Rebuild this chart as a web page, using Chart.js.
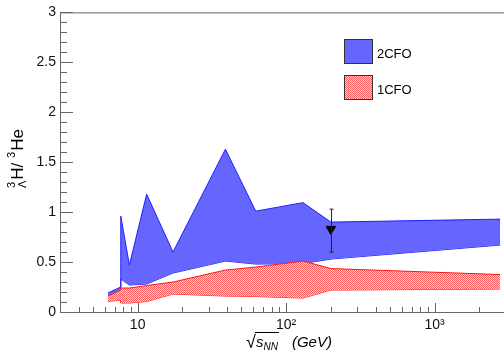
<!DOCTYPE html>
<html>
<head>
<meta charset="utf-8">
<style>
  html, body { margin: 0; padding: 0; background: #fff; overflow: hidden; }
  #wrap { width: 512px; height: 352px; }
</style>
<script src="https://cdn.jsdelivr.net/npm/chart.js@4/dist/chart.umd.min.js"></script>
</head>
<body>
<div id="wrap"><canvas id="c" width="512" height="352"></canvas></div>
<script>
// Collision energies (GeV); 7.7 appears twice where the band steps vertically
const sNN = [6.3, 7.7, 7.7, 8.8, 11.5, 17.3, 39, 62.4, 130, 200, 2760];

// 2CFO band (upper / lower edge)
const cfo2Upper = [0.19, 0.25, 0.96, 0.47, 1.18, 0.60, 1.63, 1.01, 1.095, 0.90, 0.93];
const cfo2Lower = [0.14, 0.20, 0.33, 0.27, 0.28, 0.39, 0.51, 0.48, 0.485, 0.53, 0.67];

// 1CFO band (upper / lower edge)
const cfo1Upper = [0.16, 0.22, 0.24, 0.24, 0.265, 0.30, 0.42, 0.45, 0.51, 0.435, 0.375];
const cfo1Lower = [0.105, 0.12, 0.09, 0.09, 0.105, 0.18, 0.16, 0.155, 0.14, 0.22, 0.23];

// Measured point with asymmetric errors
const dataEnergy = [200];
const dataRatio = [0.83];
const dataErrLow = [0.23];
const dataErrHigh = [0.20];

// Axis ticks
const xMajor = [10, 100, 1000];
const xTickLabels = ['10', '10\u00B2', '10\u00B3'];
const yMajor = [0, 0.5, 1, 1.5, 2, 2.5, 3];
const yTickLabels = ['0', '0.5', '1', '1.5', '2', '2.5', '3'];
const yMinorStep = 0.1;
const xMin = 3, xMax = 3000;

const FONT = '"Liberation Sans", Arial, Helvetica, sans-serif';
const BLUE_FILL = 'rgb(102,102,255)';
const BLUE_LINE = 'rgb(30,30,255)';
const RED_LINE = 'rgb(255,20,20)';
const AXIS = '#666';

function zip(xs, ys) { return xs.map((x, i) => ({ x: x, y: ys[i] })); }

function redPattern(ctx) {
  const p = document.createElement('canvas');
  p.width = 2; p.height = 2;
  const g = p.getContext('2d');
  g.fillStyle = 'rgb(255,205,205)';
  g.fillRect(0, 0, 2, 2);
  g.fillStyle = 'rgb(255,95,95)';
  g.fillRect(0, 0, 1, 1);
  g.fillRect(1, 1, 1, 1);
  return ctx.createPattern(p, 'repeat');
}

const canvas = document.getElementById('c');
const RED_FILL = redPattern(canvas.getContext('2d'));

// Inner ticks, frame, error bars, legend and axis titles
const decorations = {
  id: 'decorations',
  afterDatasetsDraw(chart) {
    const { ctx, chartArea: a, scales } = chart;
    const xs = scales.x, ys = scales.y;
    const yMin = ys.min, yMax = ys.max;
    ctx.save();

    // error bars
    ctx.strokeStyle = '#222';
    ctx.lineWidth = 1;
    dataEnergy.forEach((e, i) => {
      const px = Math.round(xs.getPixelForValue(e)) + 0.5;
      const top = ys.getPixelForValue(dataRatio[i] + dataErrHigh[i]);
      const bot = ys.getPixelForValue(dataRatio[i] - dataErrLow[i]);
      ctx.beginPath();
      ctx.moveTo(px, top); ctx.lineTo(px, bot);
      ctx.moveTo(px - 2, top); ctx.lineTo(px + 2, top);
      ctx.moveTo(px - 2, bot); ctx.lineTo(px + 2, bot);
      ctx.stroke();
    });

    // frame
    ctx.strokeStyle = AXIS;
    ctx.lineWidth = 1;
    ctx.beginPath();
    ctx.rect(a.left + 0.5, a.top + 0.5, a.right - a.left, a.bottom - a.top);
    ctx.stroke();

    // y ticks (inside)
    ctx.beginPath();
    const nY = Math.round((yMax - yMin) / yMinorStep);
    for (let i = 0; i <= nY; i++) {
      const v = yMin + i * yMinorStep;
      const py = Math.round(ys.getPixelForValue(v)) + 0.5;
      const major = yMajor.some(m => Math.abs(m - v) < 1e-6);
      ctx.moveTo(a.left, py);
      ctx.lineTo(a.left + (major ? 13 : 7), py);
    }
    // x ticks (inside)
    for (let d = 1; d <= 1000; d *= 10) {
      for (let m = 1; m <= 9; m++) {
        const v = d * m;
        if (v < xMin || v > xMax) continue;
        const px = Math.round(xs.getPixelForValue(v)) + 0.5;
        const major = xMajor.includes(v);
        ctx.moveTo(px, a.bottom);
        ctx.lineTo(px, a.bottom - (major ? 9 : 5));
      }
    }
    ctx.stroke();

    // legend
    const items = [
      { ds: chart.data.datasets[0], y: 39 },
      { ds: chart.data.datasets[2], y: 75 }
    ];
    items.forEach(it => {
      ctx.fillStyle = it.ds.backgroundColor;
      ctx.fillRect(344, it.y, 28, 24);
      ctx.strokeStyle = '#333';
      ctx.strokeRect(344.5, it.y + 0.5, 28, 24);
      ctx.fillStyle = '#000';
      ctx.font = '13px ' + FONT;
      ctx.textAlign = 'left';
      ctx.textBaseline = 'middle';
      ctx.fillText(it.ds.label, 377, it.y + 15);
    });

    // x title: sqrt(s_NN)  (GeV)
    ctx.fillStyle = '#000';
    ctx.textBaseline = 'alphabetic';
    ctx.textAlign = 'left';
    const base = 347;
    const fRad = '18px ' + FONT, fS = 'italic 15px ' + FONT, fSub = 'italic 10px ' + FONT;
    ctx.font = fRad; const wRad = ctx.measureText('\u221A').width;
    ctx.font = fS; const wS = ctx.measureText('s').width;
    ctx.font = fSub; const wSub = ctx.measureText('NN').width;
    ctx.font = fS; const wG = ctx.measureText('(GeV)').width;
    const gap = 14;
    const total = wRad + wS + wSub + gap + wG;
    let x = 289 - total / 2;
    ctx.font = fRad; ctx.fillText('\u221A', x, base + 1); x += wRad;
    const ov = x - 1;
    ctx.font = fS; ctx.fillText('s', x, base); x += wS;
    ctx.font = fSub; ctx.fillText('NN', x, base + 3); x += wSub;
    ctx.fillRect(ov, base - 15, x - ov + 1, 1);
    x += gap;
    ctx.font = fS; ctx.fillText('(GeV)', x, base);

    // y title: ^3_Lambda H / ^3He
    ctx.save();
    ctx.translate(23, 188);
    ctx.rotate(-Math.PI / 2);
    let t = 0;
    const fMain = '17px ' + FONT, fSmall = '11px ' + FONT;
    ctx.font = fSmall;
    ctx.fillText('3', t, -8);
    ctx.fillText('\u039B', t, 3);
    t += Math.max(ctx.measureText('3').width, ctx.measureText('\u039B').width) + 1;
    ctx.font = fMain;
    ctx.fillText('H/ ', t, 0); t += ctx.measureText('H/ ').width;
    ctx.font = fSmall;
    ctx.fillText('3', t, -8); t += ctx.measureText('3').width + 1;
    ctx.font = fMain;
    ctx.fillText('He', t, 0);
    ctx.restore();

    ctx.restore();
  }
};

new Chart(canvas, {
  type: 'line',
  data: {
    datasets: [
      {
        label: '2CFO', data: zip(sNN, cfo2Upper), order: 3,
        borderColor: BLUE_LINE, backgroundColor: BLUE_FILL, borderWidth: 1,
        fill: '+1', pointRadius: 0, tension: 0
      },
      {
        label: '2CFO lower', data: zip(sNN, cfo2Lower), order: 3,
        borderColor: BLUE_LINE, backgroundColor: BLUE_FILL, borderWidth: 1,
        fill: false, pointRadius: 0, tension: 0
      },
      {
        label: '1CFO', data: zip(sNN, cfo1Upper), order: 2,
        borderColor: RED_LINE, backgroundColor: RED_FILL, borderWidth: 1,
        fill: '+1', pointRadius: 0, tension: 0
      },
      {
        label: '1CFO lower', data: zip(sNN, cfo1Lower), order: 2,
        borderColor: RED_LINE, backgroundColor: RED_FILL, borderWidth: 1,
        fill: false, pointRadius: 0, tension: 0
      },
      {
        label: 'data', type: 'scatter', data: zip(dataEnergy, dataRatio), order: 1,
        pointStyle: 'triangle', rotation: 180, pointRadius: 5.5,
        backgroundColor: '#000', borderColor: '#000', borderWidth: 1
      }
    ]
  },
  options: {
    responsive: false,
    devicePixelRatio: 1,
    animation: false,
    events: [],
    layout: { padding: { top: 11, right: 6, left: 0, bottom: 0 } },
    plugins: { legend: { display: false }, tooltip: { enabled: false }, filler: { propagate: false } },
    scales: {
      x: {
        type: 'logarithmic', min: xMin, max: xMax,
        grid: { display: false, drawTicks: false }, border: { display: false },
        afterBuildTicks: s => { s.ticks = xMajor.map(v => ({ value: v })); },
        afterFit: s => { s.height = 40; },
        ticks: {
          autoSkip: false, maxRotation: 0, padding: 5, color: '#111',
          font: { family: FONT, size: 14 },
          callback: (v) => { const i = xMajor.indexOf(v); return i >= 0 ? xTickLabels[i] : ''; }
        }
      },
      y: {
        type: 'linear', min: yMajor[0], max: yMajor[yMajor.length - 1],
        grid: { display: false, drawTicks: false }, border: { display: false },
        afterBuildTicks: s => { s.ticks = yMajor.map(v => ({ value: v })); },
        afterFit: s => { s.width = 60; },
        ticks: {
          autoSkip: false, padding: 4, color: '#111',
          font: { family: FONT, size: 14 },
          callback: (v) => { const i = yMajor.indexOf(v); return i >= 0 ? yTickLabels[i] : ''; }
        }
      }
    }
  },
  plugins: [decorations]
});
</script>
</body>
</html>
